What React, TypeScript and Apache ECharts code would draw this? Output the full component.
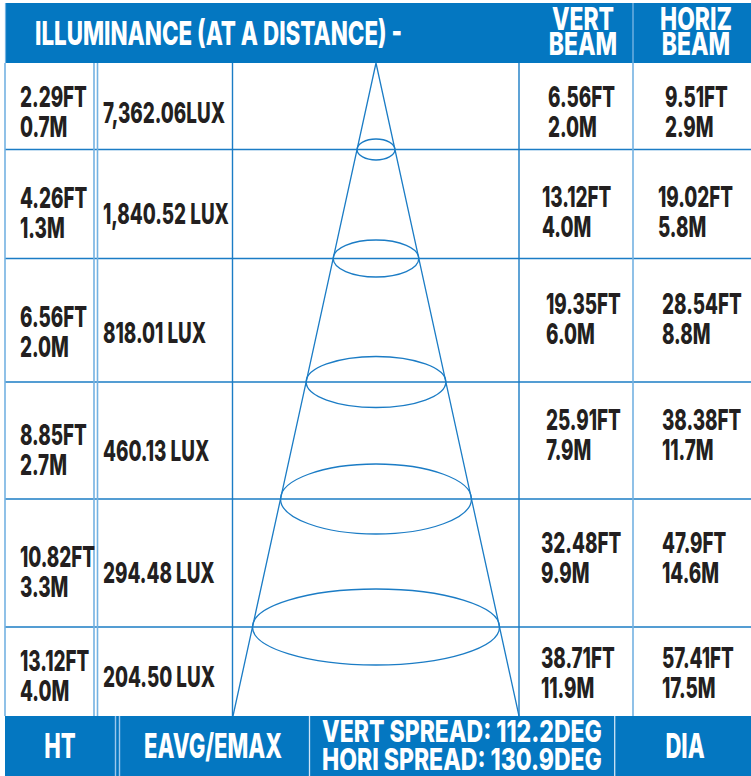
import React, { useEffect, useRef } from "react";
import * as echarts from "echarts";

// ---------- data ----------
const heightFt = ["2.29FT", "4.26FT", "6.56FT", "8.85FT", "10.82FT", "13.12FT"];
const heightM = ["0.7M", "1.3M", "2.0M", "2.7M", "3.3M", "4.0M"];
const illuminance = ["7,362.06LUX", "1,840.52 LUX", "818.01 LUX", "460.13 LUX", "294.48 LUX", "204.50 LUX"];
const vertBeamFt = ["6.56FT", "13.12FT", "19.35FT", "25.91FT", "32.48FT", "38.71FT"];
const vertBeamM = ["2.0M", "4.0M", "6.0M", "7.9M", "9.9M", "11.9M"];
const horizBeamFt = ["9.51FT", "19.02FT", "28.54FT", "38.38FT", "47.9FT", "57.41FT"];
const horizBeamM = ["2.9M", "5.8M", "8.8M", "11.7M", "14.6M", "17.5M"];
const titleText = "ILLUMINANCE (AT A DISTANCE) -";
const vertSpread = "VERT SPREAD: 112.2DEG";
const horiSpread = "HORI SPREAD: 130.9DEG";
const footerLabels = ["HT", "EAVG/EMAX", "DIA"];

// ---------- layout (pixel space of the hidden axes) ----------
const W = 751;
const H = 776;
const rowEdges = [63, 149.5, 258.5, 382, 499, 627, 716];
const leftBlockY = [111.5, 212.5, 332, 450, 572, 676];
const rightBlockY = [111.5, 212, 318.5, 434.5, 557.5, 673];
const vertX = [548, 542, 546, 546, 541, 541];
const horizX = [665, 658, 662, 662, 662, 662];
const ellipseRy = [10.5, 18.5, 25.5, 35, 38];
const apex = [376, 63];
const baseHalf = 143;

const BLUE = "#0477c1";
const LINE = "#1b7cc5";
const LIGHT = "#74b2e2";
const INK = "#231f20";
const FONT = "Inter";
const WEIGHT = 800;

function measure(text: string, size: number) {
  const c = document.createElement("canvas").getContext("2d")!;
  c.font = `${WEIGHT} ${size}px ${FONT}`;
  return c.measureText(text).width;
}

export default function App() {
  const ref = useRef<HTMLDivElement>(null);
  useEffect(() => {
    document.body.style.margin = "0";
    const chart = echarts.init(ref.current!, null, { renderer: "svg", width: W, height: H });

    const dataSize = 28.5;
    const dataScale = 122 / measure("7,362.06LUX", dataSize);
    const titleSize = 33;
    const titleScale = 367 / measure(titleText, titleSize);
    const headSize = 31.5;
    const headScale = 72 / measure("HORIZ", headSize);
    const footSize = 34;
    const footScale = 138 / measure("EAVG/EMAX", footSize);
    const spreadSize = 30;
    const spreadScale = 280 / measure(horiSpread, spreadSize);

    const mkText = (
      api: any,
      x: number,
      y: number,
      text: string,
      size: number,
      sx: number,
      fill: string,
      align: string
    ) => {
      const p = api.coord([x, y]);
      return {
        type: "text",
        x: p[0],
        y: p[1],
        scaleX: sx,
        style: {
          text,
          x: 0,
          y: 0,
          fill,
          fontFamily: FONT,
          fontWeight: WEIGHT,
          fontSize: size,
          align,
          verticalAlign: "middle",
        },
      };
    };

    const line = (api: any, x1: number, y1: number, x2: number, y2: number, color: string, w: number) => {
      const a = api.coord([x1, y1]);
      const b = api.coord([x2, y2]);
      return {
        type: "line",
        shape: { x1: a[0], y1: a[1], x2: b[0], y2: b[1] },
        style: { stroke: color, lineWidth: w },
      };
    };

    const rect = (api: any, x1: number, y1: number, x2: number, y2: number, color: string) => {
      const a = api.coord([x1, y1]);
      const b = api.coord([x2, y2]);
      return { type: "rect", shape: { x: a[0], y: a[1], width: b[0] - a[0], height: b[1] - a[1] }, style: { fill: color } };
    };

    const frameSeries = {
      type: "custom",
      clip: false,
      silent: true,
      z: 1,
      data: [[0, 0]],
      renderItem: (_p: any, api: any) => {
        const children: any[] = [];
        for (let i = 1; i < rowEdges.length - 1; i++) {
          children.push(line(api, 5, rowEdges[i], W, rowEdges[i], LINE, 1.4));
        }
        const top = rowEdges[0];
        const bot = rowEdges[rowEdges.length - 1];
        children.push(line(api, 5, top, 5, bot, LIGHT, 1.6));
        children.push(line(api, 94, top, 94, bot, LIGHT, 1.6));
        children.push(line(api, 97.5, top, 97.5, bot, LIGHT, 1.6));
        children.push(line(api, 232.5, top, 232.5, bot, LINE, 1.4));
        children.push(line(api, 519, top, 519, bot, LINE, 1.4));
        children.push(line(api, 633, top, 633, bot, LIGHT, 1.6));
        return { type: "group", children };
      },
    };

    const coneSeries = {
      type: "custom",
      clip: false,
      silent: true,
      z: 2,
      data: ellipseRy.map((ry, i) => [i, ry]),
      renderItem: (_p: any, api: any) => {
        const i = api.value(0);
        const ry = api.value(1);
        const y = rowEdges[i + 1];
        const bot = rowEdges[rowEdges.length - 1];
        const half = (baseHalf * (y - apex[1])) / (bot - apex[1]);
        const c = api.coord([apex[0], y]);
        const r = api.coord([apex[0] + half, y + ry]);
        const children: any[] = [
          {
            type: "ellipse",
            shape: { cx: c[0], cy: c[1], rx: r[0] - c[0], ry: r[1] - c[1] },
            style: { fill: "none", stroke: LINE, lineWidth: 1.3 },
          },
        ];
        if (i === 0) {
          const a = api.coord(apex);
          const l = api.coord([apex[0] - baseHalf, bot]);
          const rr = api.coord([apex[0] + baseHalf, bot]);
          children.push({
            type: "polyline",
            shape: { points: [l, a, rr] },
            style: { fill: "none", stroke: LINE, lineWidth: 1.3 },
          });
        }
        return { type: "group", children };
      },
    };

    const tableSeries = {
      type: "custom",
      clip: false,
      silent: true,
      z: 3,
      data: heightFt.map((_, i) => [i, 0]),
      renderItem: (_p: any, api: any) => {
        const i = api.value(0);
        const ly = leftBlockY[i];
        const ry = rightBlockY[i];
        const gap = 15;
        const s = dataScale;
        return {
          type: "group",
          children: [
            mkText(api, 20, ly - gap, heightFt[i], dataSize, s, INK, "left"),
            mkText(api, 20, ly + gap, heightM[i], dataSize, s, INK, "left"),
            mkText(api, 103, ly + 1, illuminance[i], dataSize, s, INK, "left"),
            mkText(api, vertX[i], ry - gap, vertBeamFt[i], dataSize, s, INK, "left"),
            mkText(api, vertX[i], ry + gap, vertBeamM[i], dataSize, s, INK, "left"),
            mkText(api, horizX[i], ry - gap, horizBeamFt[i], dataSize, s, INK, "left"),
            mkText(api, horizX[i], ry + gap, horizBeamM[i], dataSize, s, INK, "left"),
          ],
        };
      },
    };

    const bandSeries = {
      type: "custom",
      clip: false,
      silent: true,
      z: 4,
      data: [[0, 0]],
      renderItem: (_p: any, api: any) => {
        const children: any[] = [
          rect(api, 5, 3, W, 63, BLUE),
          rect(api, 5, 716, W, H, BLUE),
          line(api, 5.5, 3, 5.5, 63, LIGHT, 1.2),
          line(api, 633, 3, 633, 63, LIGHT, 1.4),
          line(api, 115.5, 716, 115.5, H, "#9cc8ec", 1.4),
          line(api, 119.5, 716, 119.5, H, "#9cc8ec", 1.4),
          line(api, 309.5, 716, 309.5, H, "#cfe4f6", 1.3),
          line(api, 614.7, 716, 614.7, H, "#cfe4f6", 1.3),
          mkText(api, 35, 33, titleText, titleSize, titleScale, "#fff", "left"),
          mkText(api, 583, 18.5, "VERT", headSize, headScale, "#fff", "center"),
          mkText(api, 583, 44, "BEAM", headSize, headScale, "#fff", "center"),
          mkText(api, 696, 18.5, "HORIZ", headSize, headScale, "#fff", "center"),
          mkText(api, 696, 44, "BEAM", headSize, headScale, "#fff", "center"),
          mkText(api, 60, 745.5, footerLabels[0], footSize, footScale, "#fff", "center"),
          mkText(api, 213, 745.5, footerLabels[1], footSize, footScale, "#fff", "center"),
          mkText(api, 322, 731, vertSpread, spreadSize, spreadScale, "#fff", "left"),
          mkText(api, 322, 758.5, horiSpread, spreadSize, spreadScale, "#fff", "left"),
          mkText(api, 685, 745.5, footerLabels[2], footSize, footScale, "#fff", "center"),
        ];
        return { type: "group", children };
      },
    };

    chart.setOption({
      animation: false,
      backgroundColor: "#fff",
      grid: { left: 0, right: 0, top: 0, bottom: 0 },
      xAxis: { type: "value", min: 0, max: W, show: false },
      yAxis: { type: "value", min: 0, max: H, inverse: true, show: false },
      series: [frameSeries, coneSeries, tableSeries, bandSeries],
    });
    return () => chart.dispose();
  }, []);
  return <div ref={ref} style={{ width: W, height: H }} />;
}
